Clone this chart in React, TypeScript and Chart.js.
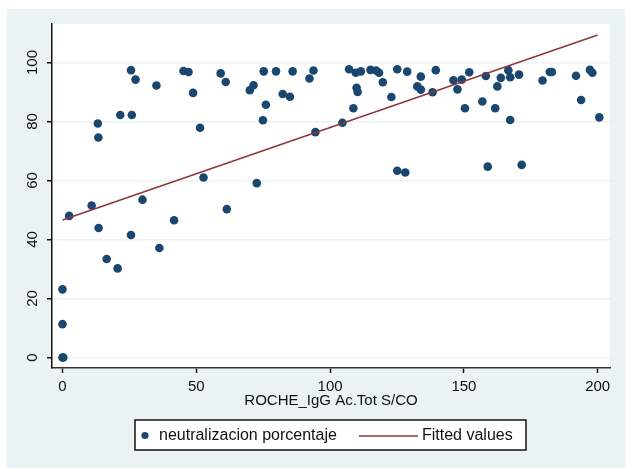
import React, { useEffect, useRef } from 'react';
import { Chart, registerables } from 'chart.js';

Chart.register(...registerables);

// ROCHE_IgG Ac.Tot S/CO (x) and neutralizacion porcentaje (y)
const rocheValues = [
  0, 0.3, 0, 0, 2.5, 10.9, 13.2, 13.4, 13.5, 16.5,
  20.6, 21.6, 25.6, 25.9, 25.6, 27.3, 29.9, 35.1, 36.2, 41.7,
  45.2, 47.1, 48.8, 51.4, 52.7, 59.1, 61.0, 61.4, 70.0, 71.4,
  72.6, 74.9, 75.2, 76.0, 79.8, 82.3, 85.0, 86.0, 92.3, 93.8,
  94.5, 104.6, 107.1, 108.7, 109.6, 109.9, 110.3, 111.5, 115.1, 117.2,
  118.3, 119.7, 122.9, 125.1, 125.1, 128.1, 128.8, 132.6, 133.9, 133.9,
  138.3, 139.5, 146.1, 147.6, 149.2, 150.4, 152.0, 156.9, 158.2, 158.9,
  161.7, 162.5, 163.8, 166.6, 167.3, 167.3, 170.6, 171.6, 179.4, 182.1,
  182.9, 191.9, 193.8, 197.1, 198.0, 200.6,
];
const neutralizacionValues = [
  0, 0, 11.3, 23.1, 48.0, 51.5, 79.3, 74.6, 43.9, 33.4,
  30.2, 82.2, 41.5, 82.2, 97.4, 94.2, 53.5, 92.2, 37.1, 46.5,
  97.1, 96.8, 89.7, 77.9, 61.0, 96.3, 93.4, 50.3, 90.6, 92.3,
  59.1, 80.4, 97.0, 85.7, 97.0, 89.3, 88.4, 97.0, 94.6, 97.3,
  76.4, 79.6, 97.7, 84.5, 96.5, 91.4, 90.0, 97.0, 97.5, 97.3,
  96.5, 93.3, 88.3, 97.7, 63.3, 62.7, 96.9, 91.9, 90.8, 95.2,
  89.9, 97.4, 94.0, 90.9, 94.2, 84.5, 96.7, 86.8, 95.4, 64.7,
  84.5, 91.9, 94.8, 97.4, 95.0, 80.5, 95.9, 65.3, 93.9, 96.8,
  96.8, 95.5, 87.3, 97.5, 96.5, 81.4,
];
const fitX = [0, 200];
const fitY = [46.6, 109.3];
const xTickValues = [0, 50, 100, 150, 200];
const yTickValues = [0, 20, 40, 60, 80, 100];
const xTitle = 'ROCHE_IgG Ac.Tot S/CO';
const scatterLabel = 'neutralizacion porcentaje';
const fitLabel = 'Fitted values';

const FONT = "'Liberation Sans', Arial, sans-serif";
const NAVY = '#1a476f';
const MAROON = '#90353b';
const BG = '#eaf2f3';
const INK = '#111111';

const decoPlugin = {
  id: 'deco',
  beforeDraw(chart: any) {
    const { ctx, chartArea: a } = chart;
    ctx.save();
    ctx.fillStyle = '#ffffff';
    ctx.fillRect(0, 0, chart.width, chart.height);
    ctx.fillStyle = BG;
    ctx.fillRect(7, 9, 618, 459);
    ctx.fillStyle = '#ffffff';
    ctx.fillRect(a.left, a.top, a.right - a.left, a.bottom - a.top);
    ctx.restore();
  },
  afterDraw(chart: any) {
    const { ctx } = chart;
    const ys = chart.scales.y;
    const xs = chart.scales.x;
    ctx.save();
    ctx.fillStyle = INK;
    ctx.font = `15px ${FONT}`;
    ctx.textAlign = 'center';
    ctx.textBaseline = 'middle';
    ys.ticks.forEach((t: any) => {
      const py = ys.getPixelForValue(t.value);
      ctx.save();
      ctx.translate(32.5, py);
      ctx.rotate(-Math.PI / 2);
      ctx.fillText(String(t.value), 0, 0);
      ctx.restore();
    });
    // axis title
    ctx.fillText(xTitle, (xs.left + xs.right) / 2, 401);

    // legend
    const lx = 135, ly = 420, lw = 391, lh = 30;
    ctx.fillStyle = '#ffffff';
    ctx.fillRect(lx, ly, lw, lh);
    ctx.strokeStyle = INK;
    ctx.lineWidth = 1.5;
    ctx.strokeRect(lx, ly, lw, lh);
    ctx.fillStyle = NAVY;
    ctx.beginPath();
    ctx.arc(145, 435.5, 3.6, 0, Math.PI * 2);
    ctx.fill();
    ctx.fillStyle = INK;
    ctx.font = `16px ${FONT}`;
    ctx.textAlign = 'left';
    ctx.fillText(scatterLabel, 159, 435.5);
    ctx.strokeStyle = MAROON;
    ctx.lineWidth = 1.5;
    ctx.beginPath();
    ctx.moveTo(359, 436);
    ctx.lineTo(418, 436);
    ctx.stroke();
    ctx.fillStyle = INK;
    ctx.fillText(fitLabel, 422, 435.5);
    ctx.restore();
  },
};

export default function App() {
  const canvasRef = useRef<HTMLCanvasElement | null>(null);

  useEffect(() => {
    const canvas = canvasRef.current;
    if (!canvas) return;
    const points = rocheValues.map((x, i) => ({ x, y: neutralizacionValues[i] }));
    const fitPoints = fitX.map((x, i) => ({ x, y: fitY[i] }));
    const chart = new Chart(canvas, {
      type: 'scatter',
      data: {
        datasets: [
          {
            type: 'line',
            label: fitLabel,
            data: fitPoints,
            borderColor: MAROON,
            borderWidth: 1.5,
            pointRadius: 0,
            fill: false,
            order: 0,
          } as any,
          {
            type: 'scatter',
            label: scatterLabel,
            data: points,
            backgroundColor: NAVY,
            borderWidth: 0,
            pointRadius: 4.3,
            pointHoverRadius: 4.3,
            order: 1,
          } as any,
        ],
      },
      options: {
        responsive: false,
        animation: false,
        devicePixelRatio: 1,
        layout: { padding: { left: 0, right: 18, top: 24, bottom: 0 } },
        plugins: {
          legend: { display: false },
          tooltip: { enabled: false },
        },
        scales: {
          x: {
            type: 'linear',
            min: -3.92,
            max: 204.6,
            afterFit: (s: any) => { s.height = 100; },
            afterBuildTicks: (s: any) => { s.ticks = xTickValues.map((v) => ({ value: v })); },
            ticks: {
              includeBounds: false,
              color: INK,
              font: { family: FONT, size: 15 },
              padding: 5,
              maxRotation: 0,
            },
            grid: {
              drawOnChartArea: false,
              drawTicks: true,
              tickLength: 5,
              tickColor: INK,
              tickWidth: 1.5,
            },
            border: { display: true, color: '#333333', width: 1.5 },
          },
          y: {
            type: 'linear',
            min: -3.56,
            max: 113.05,
            afterFit: (s: any) => { s.width = 52; },
            afterBuildTicks: (s: any) => { s.ticks = yTickValues.map((v) => ({ value: v })); },
            ticks: {
              display: false,
              includeBounds: false,
            },
            grid: {
              drawOnChartArea: true,
              color: BG,
              lineWidth: 1.5,
              drawTicks: true,
              tickLength: 5,
              tickColor: INK,
              tickWidth: 1.5,
            },
            border: { display: true, color: INK, width: 1.5 },
          },
        },
      },
      plugins: [decoPlugin],
    });
    return () => chart.destroy();
  }, []);

  return (
    <div style={{ position: 'fixed', left: 0, top: 0, width: 628, height: 468 }}>
      <canvas ref={canvasRef} width={628} height={468} style={{ display: 'block' }} />
    </div>
  );
}
